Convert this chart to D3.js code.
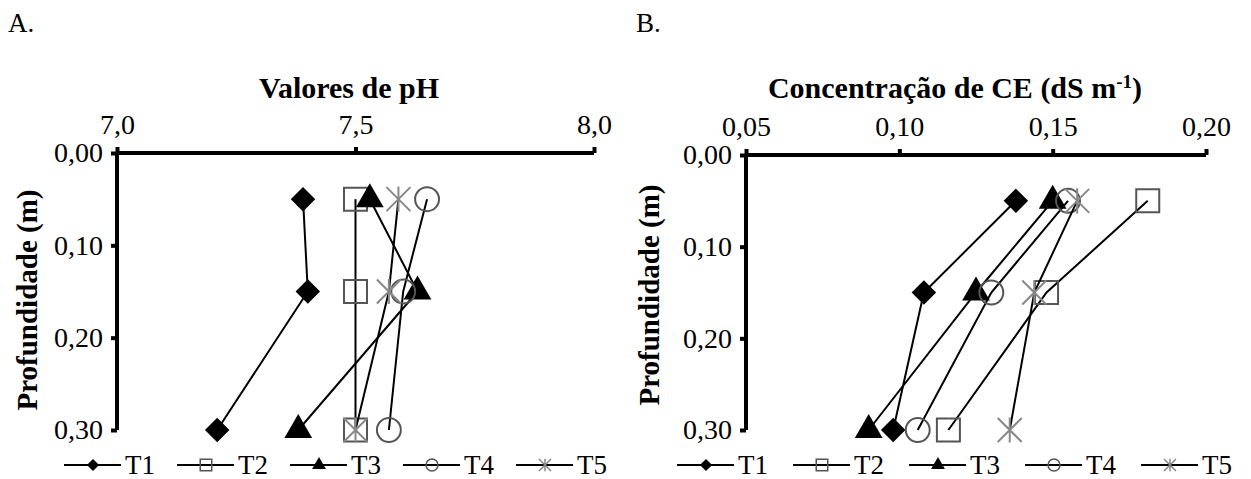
<!DOCTYPE html>
<html>
<head>
<meta charset="utf-8">
<script src="https://cdn.jsdelivr.net/npm/d3@7"></script>
<style>
  html, body { margin: 0; padding: 0; background: #fff; }
  svg, svg text { font-family: "Liberation Serif", Tinos, "Times New Roman", "DejaVu Serif", serif; fill: #000; }
</style>
</head>
<body>
<svg id="chart" width="1251" height="479"></svg>
<script>
// Depths sampled (m)
const depths = [0.05, 0.15, 0.30];
const treatments = ["T1", "T2", "T3", "T4", "T5"];

// pH by treatment, one value per depth
const phT1 = [7.39, 7.40, 7.21];
const phT2 = [7.50, 7.50, 7.50];
const phT3 = [7.53, 7.63, 7.38];
const phT4 = [7.65, 7.60, 7.57];
const phT5 = [7.59, 7.57, 7.50];

// Electrical conductivity (dS m-1) by treatment
const ceT1 = [0.138, 0.108, 0.098];
const ceT2 = [0.181, 0.148, 0.116];
const ceT3 = [0.150, 0.125, 0.090];
const ceT4 = [0.155, 0.130, 0.106];
const ceT5 = [0.158, 0.144, 0.136];

// Axis ticks
const phTicks = [7.0, 7.5, 8.0];
const ceTicks = [0.05, 0.10, 0.15, 0.20];
const depthTicks = [0.00, 0.10, 0.20, 0.30];

const FONT = '"Liberation Serif", Tinos, "Times New Roman", "DejaVu Serif", serif';
const locale = d3.formatLocale({decimal: ",", thousands: ".", grouping: [3], currency: ["", ""]});

const svg = d3.select("#chart");

// marker shapes
function starPath(r) {
  return `M${-r},${-r}L${r},${r}M${r},${-r}L${-r},${r}M0,${-r * 1.05}L0,${r * 1.05}`;
}
const markerStyle = {
  T1: {draw: s => d3.symbol(d3.symbolSquare, s * s * 0.52)(), rotate: 45, fill: "#000", stroke: "none"},
  T2: {draw: s => d3.symbol(d3.symbolSquare, s * s * 0.92)(), rotate: 0, fill: "none", stroke: "#555"},
  T3: {draw: s => d3.symbol(d3.symbolTriangle, s * s * 0.58)(), rotate: 0, fill: "#000", stroke: "none"},
  T4: {draw: s => d3.symbol(d3.symbolCircle, s * s * 0.78)(), rotate: 0, fill: "none", stroke: "#555"},
  T5: {draw: s => starPath(s * 0.5), rotate: 0, fill: "none", stroke: "#888"}
};

function drawMarker(g, key, x, y, size, sw) {
  const st = markerStyle[key];
  g.append("path")
    .attr("d", st.draw(size))
    .attr("transform", `translate(${x},${y}) rotate(${st.rotate})`)
    .attr("fill", st.fill)
    .attr("stroke", st.stroke)
    .attr("stroke-width", sw);
}

function panel(cfg) {
  const g = svg.append("g");
  const x = d3.scaleLinear().domain(cfg.xDomain).range(cfg.xRange);
  const y = d3.scaleLinear().domain([0, 0.30]).range(cfg.yRange);

  // panel letter
  g.append("text").attr("x", cfg.letterX).attr("y", 32)
    .attr("font-family", FONT).attr("font-size", 27).text(cfg.letter);

  // top x axis
  const xAxis = d3.axisTop(x).tickValues(cfg.xTicks)
    .tickFormat(locale.format(cfg.xFmt)).tickSize(6).tickPadding(13);
  const gx = g.append("g").attr("transform", `translate(0,${cfg.yRange[0]})`).call(xAxis)
    .attr("font-family", FONT);
  gx.select(".domain").attr("stroke", "#000").attr("stroke-width", 4)
    .attr("d", `M${cfg.xRange[0]},0H${cfg.xRange[1]}`);
  gx.selectAll(".tick line").attr("stroke", "#000").attr("stroke-width", 4);
  gx.selectAll(".tick text").attr("font-size", 28).attr("fill", "#000");

  // left y axis
  const yAxis = d3.axisLeft(y).tickValues(depthTicks)
    .tickFormat(locale.format(".2f")).tickSize(6).tickPadding(8);
  const gy = g.append("g").attr("transform", `translate(${cfg.xRange[0]},0)`).call(yAxis)
    .attr("font-family", FONT);
  gy.select(".domain").attr("stroke", "#000").attr("stroke-width", 4)
    .attr("d", `M0,${cfg.yRange[0]}V${cfg.yRange[1]}`);
  gy.selectAll(".tick line").attr("stroke", "#000").attr("stroke-width", 4);
  gy.selectAll(".tick text").attr("font-size", 28).attr("fill", "#000");

  // x title
  const t = g.append("text").attr("x", cfg.titleX).attr("y", 98)
    .attr("font-family", FONT)
    .attr("text-anchor", "middle").attr("font-size", 30).attr("font-weight", "bold");
  cfg.title(t);

  // y title
  g.append("text")
    .attr("transform", `translate(${cfg.yTitleX},${cfg.yTitleY}) rotate(-90)`)
    .attr("font-family", FONT)
    .attr("text-anchor", "middle").attr("font-size", 29).attr("font-weight", "bold")
    .text("Profundidade (m)");

  // series
  const line = d3.line().x(d => x(d.v)).y(d => y(d.d));
  treatments.forEach((k, i) => {
    const pts = cfg.series[i].map((v, j) => ({v, d: depths[j]}));
    g.append("path").datum(pts).attr("d", line)
      .attr("fill", "none").attr("stroke", "#000").attr("stroke-width", 2);
    pts.forEach(p => drawMarker(g, k, x(p.v), y(p.d), 24, 2));
  });

  // legend
  const lg = g.append("g");
  treatments.forEach((k, i) => {
    const x0 = cfg.legendX + i * cfg.legendStep;
    const ly = 465;
    lg.append("line").attr("x1", x0).attr("x2", x0 + 57).attr("y1", ly).attr("y2", ly)
      .attr("stroke", "#000").attr("stroke-width", 2);
    drawMarker(lg, k, x0 + 29, ly, 12, 1.5);
    lg.append("text").attr("x", x0 + 61).attr("y", ly + 9)
      .attr("font-family", FONT).attr("font-size", 27).text(k);
  });
}

panel({
  letter: "A.", letterX: 8,
  xDomain: [7.0, 8.0], xRange: [117, 594], yRange: [153, 430],
  xTicks: phTicks, xFmt: ".1f",
  titleX: 349, title: t => t.text("Valores de pH"),
  yTitleX: 37, yTitleY: 300,
  series: [phT1, phT2, phT3, phT4, phT5],
  legendX: 64, legendStep: 113
});

panel({
  letter: "B.", letterX: 636,
  xDomain: [0.05, 0.20], xRange: [746, 1206], yRange: [155, 430],
  xTicks: ceTicks, xFmt: ".2f",
  titleX: 955, title: t => {
    t.append("tspan").text("Concentração de CE (dS m");
    t.append("tspan").attr("dy", -10).attr("font-size", 19).text("-1");
    t.append("tspan").attr("dy", 10).text(")");
  },
  yTitleX: 659, yTitleY: 295,
  series: [ceT1, ceT2, ceT3, ceT4, ceT5],
  legendX: 677, legendStep: 116
});
</script>
</body>
</html>
